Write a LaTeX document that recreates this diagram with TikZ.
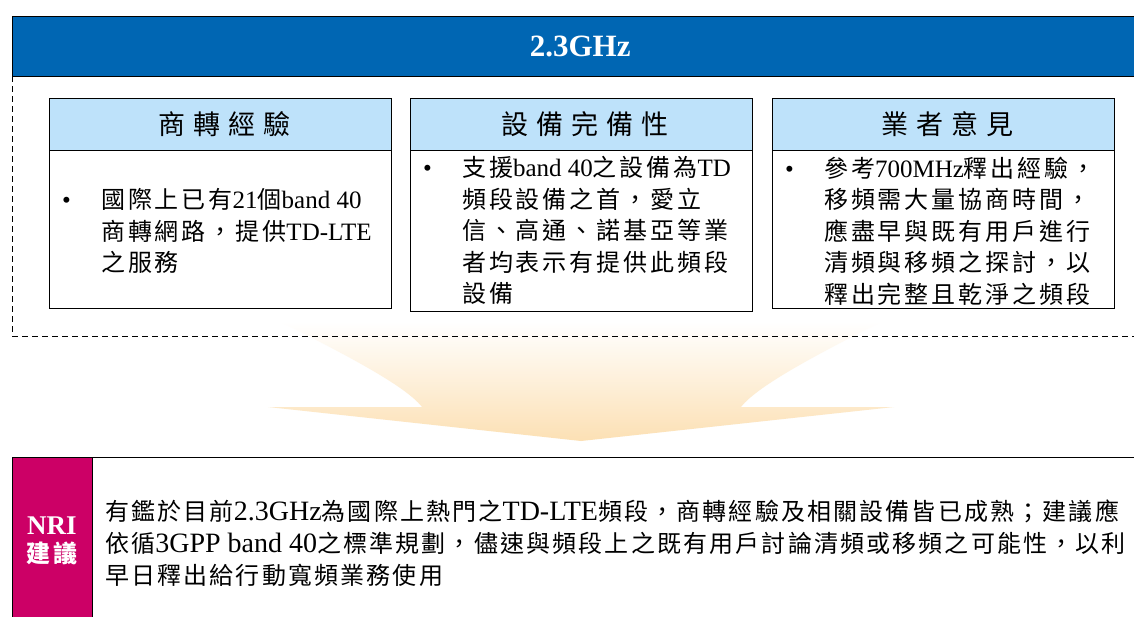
\documentclass[tikz,border=0pt]{standalone}
\usepackage{fontspec}
\setmainfont{Liberation Serif}
\newfontfamily\cjk[LetterSpace=12]{Noto Sans CJK TC}
\newfontfamily\cjkrec[LetterSpace=9]{Noto Sans CJK TC}
\newfontfamily\cjkhd[LetterSpace=30]{Noto Sans CJK TC}
\newcommand{\zh}[1]{{\fontsize{24}{\baselineskip}\cjk #1}}
\newcommand{\zhr}[1]{{\fontsize{24}{\baselineskip}\cjkrec #1}}
\usepackage{tikz}
\usetikzlibrary{positioning, calc}

\definecolor{barblue}{RGB}{0,102,179}
\definecolor{headblue}{RGB}{190,226,250}
\definecolor{nrired}{RGB}{204,0,102}
\definecolor{arrowsand}{RGB}{252,224,180}

\tikzset{
    barbox/.style={draw=black, fill=barblue, text=white, anchor=north west, inner sep=0pt,
        minimum width=1136pt, minimum height=60pt, font=\fontsize{31}{34}\selectfont\bfseries},
    headbox/.style={draw=black, fill=headblue, anchor=north west, inner sep=0pt,
        minimum width=342pt, minimum height=52pt, font=\fontsize{27}{30}\cjkhd},
    bodybox/.style={draw=black, fill=white, inner sep=0pt, minimum width=342pt},
    bodytext/.style={align=left, anchor=north west, inner sep=0pt, font=\fontsize{25}{31.5}\selectfont},
    nribox/.style={draw=black, fill=nrired, anchor=north west, inner sep=0pt,
        minimum width=80pt, minimum height=170pt},
}
\newcommand{\bul}{\makebox[39pt][l]{\textbullet}}
\newcommand{\ind}{\hspace*{39pt}}

\begin{document}
\begin{tikzpicture}[x=1pt, y=-1pt]
    \clip (0,0) rectangle (1134,616);
    \fill[white] (0,0) rectangle (1134,616);

    \shade[top color=white, bottom color=arrowsand]
        (281,322) .. controls (340,352) and (405,385) .. (422,407)
        -- (268,407) -- (581,441) -- (894,407) -- (741,407)
        .. controls (758,385) and (822,352) .. (881,322) -- cycle;

    \node[barbox] (bar) at (12,16) {2.3GHz};
    \draw[dash pattern=on 6pt off 4pt] (bar.south west) -- (12,336) -- (1140,336);

    \node[headbox] (exph) at (49,98) {\hspace{8pt}商轉經驗};
    \node[bodybox, minimum height=158pt, below=0pt of exph] (expb) {};
    \node[bodytext, below right=38pt and 13pt of expb.north west] (expt)
        {\bul\zh{國際上已有}21\zh{個}band 40\\
         \ind\zh{商轉網路，提供}TD-LTE\\
         \ind\zh{之服務}};

    \node[headbox] (eqph) at (410,98) {\hspace{8pt}設備完備性};
    \node[bodybox, minimum height=161pt, below=0pt of eqph] (eqpb) {};
    \node[bodytext, below right=6pt and 13pt of eqpb.north west] (eqpt)
        {\bul\zh{支援}band 40\zh{之設備為}TD\\
         \ind\zh{頻段設備之首，愛立}\\
         \ind\zh{信、高通、諾基亞等業}\\
         \ind\zh{者均表示有提供此頻段}\\
         \ind\zh{設備}};

    \node[headbox] (oph) at (772,98) {\hspace{8pt}業者意見};
    \node[bodybox, minimum height=158pt, below=0pt of oph] (opb) {};
    \node[bodytext, below right=6pt and 13pt of opb.north west] (opt)
        {\bul\zh{參考}700MHz\zh{釋出經驗，}\\
         \ind\zh{移頻需大量協商時間，}\\
         \ind\zh{應盡早與既有用戶進行}\\
         \ind\zh{清頻與移頻之探討，以}\\
         \ind\zh{釋出完整且乾淨之頻段}};

    \node[nribox] (nri) at (12,457) {};
    \node[draw=black, anchor=north west, inner sep=0pt, minimum width=1060pt,
        minimum height=170pt] (rec) at (nri.north east) {};
    \node[text=white, align=center, font=\fontsize{27}{28}\selectfont\bfseries] (nril) at (52,541)
        {NRI\\\zh{建議}};
    \node[bodytext, font=\fontsize{28}{32}\selectfont] (rect) at (105,500)
        {\zhr{有鑑於目前}2.3GHz\zhr{為國際上熱門之}TD-LTE\zhr{頻段，商轉經驗及相關設備皆已成熟；建議應}\\
         \zhr{依循}3GPP band 40\zhr{之標準規劃，儘速與頻段上之既有用戶討論清頻或移頻之可能性，以利}\\
         \zhr{早日釋出給行動寬頻業務使用}};
\end{tikzpicture}
\end{document}
